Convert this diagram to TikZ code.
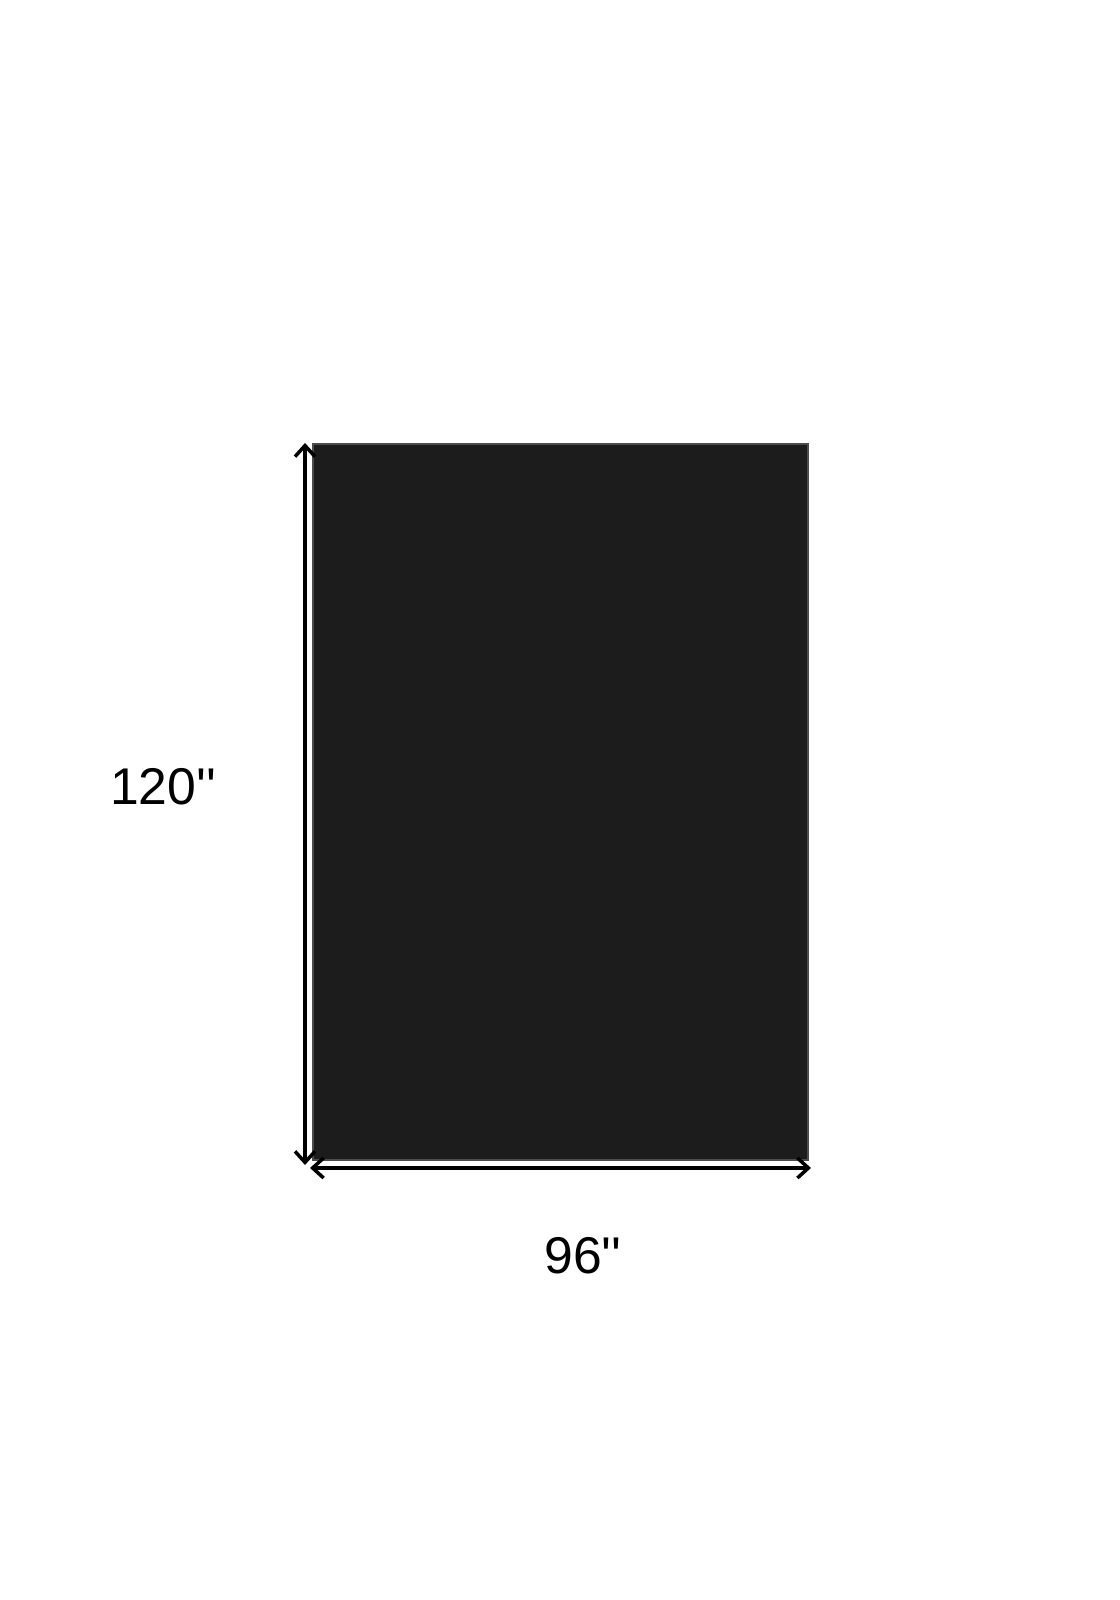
\documentclass[tikz,border=0pt]{standalone}
\usepackage{fontspec}
\setmainfont{Liberation Sans}
\usetikzlibrary{arrows.meta}
\definecolor{rugcolor}{HTML}{1C1C1C}
\newcommand{\inchmark}{\XeTeXglyph\XeTeXcharglyph"27\relax\XeTeXglyph\XeTeXcharglyph"27\relax}
\tikzset{
  dimline/.style={line width=1pt, {Straight Barb[length=1.1mm,width=2mm]}-{Straight Barb[length=1.1mm,width=2mm]}},
  dimtext/.style={font=\fontsize{14.7}{16}\selectfont, inner sep=0pt}
}
\begin{document}
\begin{tikzpicture}
    \useasboundingbox (0,0) rectangle (11.19,16);
    \node (rug) [fill=rugcolor, draw=black!70, line width=0.3pt, minimum width=4.95cm, minimum height=7.16cm, inner sep=0pt] at (5.605,7.98) {};
    \coordinate (V0) at (3.05,4.35);
    \coordinate (V1) at (3.05,11.57);
    \coordinate (H0) at (3.10,4.32);
    \coordinate (H1) at (8.11,4.32);
    \draw [dimline] (V0) -- (V1);
    \draw [dimline] (H0) -- (H1);
    \node (len) [dimtext] at (1.63,8.13) {120\inchmark};
    \node (wid) [dimtext] at (5.83,3.44) {96\inchmark};
  \end{tikzpicture}
\end{document}
